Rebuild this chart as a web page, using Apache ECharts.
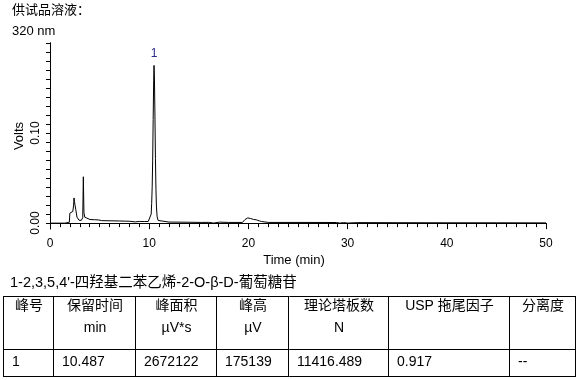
<!DOCTYPE html>
<html><head><meta charset="utf-8">
<script src="https://cdn.jsdelivr.net/npm/echarts@6/dist/echarts.min.js"></script>
<style>html,body{margin:0;padding:0;background:#fff}#c{width:578px;height:380px}</style>
</head><body><div id="c"></div>
<script>
// Chromatogram trace: time (min)
const times = [0,1.5,1.95,2.0,2.1,2.2,2.3,2.38,2.42,2.47,2.52,2.6,2.72,2.92,3.15,3.3,3.36,3.42,3.5,3.63,4.03,4.5,4.87,5.04,5.2,6.04,7.0,7.1,7.2,7.6,8.0,8.6,9.0,9.5,9.9,10.0,10.1,10.2,10.25,10.3,10.35,10.4,10.45,10.487,10.53,10.58,10.63,10.68,10.73,10.8,10.9,11.0,11.1,12,14,15.3,15.5,16.0,16.5,17.1,18,19.4,19.66,19.8,19.93,20.1,20.2,20.33,20.5,20.83,21.1,21.34,22,25,28.9,29.2,29.6,30.0,30.2,31.0,35,40,45,50];
// Signal (Volts)
const volts = [0,0,0.001,0.011,0.012,0.011,0.013,0.020,0.028,0.024,0.020,0.015,0.0067,0.0033,0.003,0.006,0.0515,0.012,0.0067,0.005,0.004,0.0038,0.0036,0.0045,0.0028,0.0026,0.0024,0.0015,0.0024,0.0022,0.0021,0.0014,0.0019,0.0018,0.0018,0.002,0.004,0.010,0.022,0.040,0.070,0.115,0.158,0.175139,0.160,0.118,0.072,0.038,0.018,0.007,0.003,0.002,0.0015,0.0012,0.001,0.0008,0.0002,0.0009,0.0001,0.0011,0.0008,0.0008,0.004,0.0035,0.0058,0.004,0.0052,0.0058,0.0042,0.0036,0.0025,0.0018,0.0008,0.0008,0.0007,0.0001,0.0006,0.0001,0.0007,0.0006,0.0005,0.0004,0.0004,0.0003];
const peakLabel = '1';
const peakTime = 10.487;
const peakHeight = 0.175139;
const xTicks = [0,10,20,30,40,50];
const yTickLabels = ['0.00','0.10'];

const tableTitle = "1-2,3,5,4'-四羟基二苯乙烯-2-O-β-D-葡萄糖苷";
const headers1 = ['峰号','保留时间','峰面积','峰高','理论塔板数','USP 拖尾因子','分离度'];
const headers2 = ['','min','µV*s','µV','N','',''];
const rowValues = ['1','10.487','2672122','175139','11416.489','0.917','--'];

const latin = "'Liberation Sans', Arial, 'Noto Sans CJK SC', sans-serif";
const cjk = "'Liberation Sans', Arial, 'Noto Sans CJK SC', sans-serif";

const seriesData = times.map((t,i)=>[t, volts[i]]);

// table geometry
const colX = [3,53,135,216,288,388,509,575];
const rowY = [296.5,349.5,376.5];
const g = [];
rowY.forEach(y=>g.push({type:'line',shape:{x1:colX[0],y1:y,x2:colX[7]+1,y2:y},style:{stroke:'#000',lineWidth:1}}));
colX.forEach(x=>g.push({type:'line',shape:{x1:x+0.5,y1:rowY[0],x2:x+0.5,y2:rowY[2]},style:{stroke:'#000',lineWidth:1}}));
for (let i=0;i<7;i++){
  const cx=(colX[i]+colX[i+1])/2+1;
  g.push({type:'text',x:cx,y:306,style:{text:headers1[i],font:'14px '+cjk,fill:'#000',align:'center',verticalAlign:'middle'}});
  if (headers2[i]) g.push({type:'text',x:cx,y:328,style:{text:headers2[i],font:'14px '+latin,fill:'#000',align:'center',verticalAlign:'middle'}});
  g.push({type:'text',x:colX[i]+9,y:362,style:{text:rowValues[i],font:'14px '+latin,fill:'#000',align:'left',verticalAlign:'middle'}});
}
g.push({type:'text',x:10,y:283,style:{text:tableTitle,font:'14.5px '+cjk,fill:'#000',align:'left',verticalAlign:'middle'}});
g.push({type:'text',x:12,y:10.5,style:{text:'供试品溶液：',font:'13px '+cjk,fill:'#000',align:'left',verticalAlign:'middle'}});
g.push({type:'text',x:12,y:31.5,style:{text:'320 nm',font:'13px '+latin,fill:'#000',align:'left',verticalAlign:'middle'}});

const chart = echarts.init(document.getElementById('c'), null, {renderer:'canvas'});
chart.setOption({
  backgroundColor:'#fff',
  animation:false,
  grid:[
    {left:50, right:32, top:43, bottom:151},
    {left:50, right:32, top:43, bottom:157}
  ],
  xAxis:[
    {gridIndex:0, type:'value', min:0, max:50, interval:10,
     axisLine:{lineStyle:{color:'#000',width:1}},
     axisTick:{length:6, lineStyle:{color:'#000'}},
     minorTick:{show:true, splitNumber:10, length:4, lineStyle:{color:'#000'}},
     axisLabel:{color:'#000', fontSize:12, fontFamily:latin, margin:9,
       formatter:v=>xTicks.includes(v)?String(v):''},
     splitLine:{show:false},
     name:'Time (min)', nameLocation:'middle', nameGap:25,
     nameTextStyle:{color:'#000', fontSize:13, fontFamily:latin, padding:[0,8,0,0]}},
    {gridIndex:1, type:'value', min:0, max:50, show:false}
  ],
  yAxis:[
    {gridIndex:0, type:'value', min:-0.0065, max:0.2,
     axisLine:{show:true, lineStyle:{color:'#000'}},
     axisTick:{show:false}, axisLabel:{show:false}, splitLine:{show:false},
     name:'Volts', nameLocation:'middle', nameGap:24, nameRotate:90,
     nameTextStyle:{color:'#000', fontSize:13, fontFamily:latin}},
    {gridIndex:1, type:'value', min:0, max:0.2, interval:0.1,
     axisLine:{show:true, lineStyle:{color:'#000'}},
     axisTick:{length:4, lineStyle:{color:'#000'}},
     minorTick:{show:true, splitNumber:10, length:4, lineStyle:{color:'#000'}},
     axisLabel:{color:'#000', fontSize:12, fontFamily:latin, rotate:90, margin:8, showMaxLabel:false,
       formatter:v=>{const i=Math.round(v*10); return (i<yTickLabels.length && Math.abs(v-i/10)<1e-6)?yTickLabels[i]:'';}},
     splitLine:{show:false}}
  ],
  series:[{
    type:'line', xAxisIndex:0, yAxisIndex:0, data:seriesData,
    symbol:'none', showSymbol:false, sampling:null, smooth:false,
    lineStyle:{color:'#000', width:1}, clip:false,
    markPoint:{
      symbol:'circle', symbolSize:0, silent:true,
      data:[{coord:[peakTime, peakHeight], value:peakLabel}],
      label:{show:true, position:'top', distance:6, formatter:peakLabel, color:'#2b2b8a', fontSize:12, fontFamily:latin}
    }
  }],
  graphic:g
});
</script></body></html>
